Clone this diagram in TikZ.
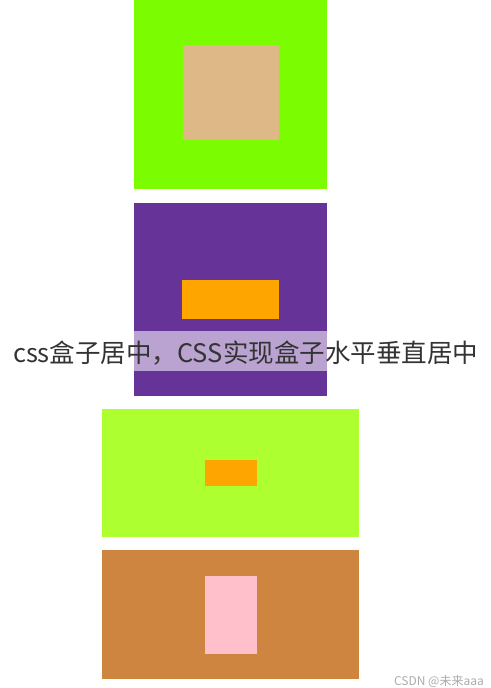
\documentclass[tikz,border=0pt]{standalone}
\usepackage{fontspec}
\newfontfamily\cjk{Noto Sans CJK SC}
\usetikzlibrary{positioning, calc}
\definecolor{lawnGreen}{HTML}{7CFC00}
\definecolor{burlyWood}{HTML}{DEB887}
\definecolor{rebeccaPurple}{HTML}{663399}
\definecolor{boxOrange}{HTML}{FFA500}
\definecolor{greenYellow}{HTML}{ADFF2F}
\definecolor{peruBrown}{HTML}{CD853F}
\definecolor{boxPink}{HTML}{FFC0CB}
\definecolor{titleGray}{HTML}{333333}

\begin{document}
\begin{tikzpicture}[x=1pt,y=-1pt,
				box/.style={rectangle,inner sep=0pt,outer sep=0pt,draw=none},
				band/.style={box,fill=white,fill opacity=0.55,minimum width=193pt,minimum height=40pt},
				title/.style={inner sep=0pt,font=\cjk\fontsize{25.5pt}{26pt}\selectfont,text=titleGray},
				stamp/.style={inner sep=0pt,font=\cjk\fontsize{12pt}{13pt}\selectfont,text=black!33}]
			\useasboundingbox (0,0) rectangle (490,688);
			% first pair
			\node [box,fill=lawnGreen,minimum width=193pt,minimum height=189pt] (outerA) at (230.5,94.5) {};
			\node [box,fill=burlyWood,minimum width=96pt,minimum height=95pt] (innerA) at (231,92.5) {};
			% second pair
			\node [box,fill=rebeccaPurple,minimum width=193pt,minimum height=193pt] (outerB) at (230.5,299.5) {};
			\node [box,fill=boxOrange,minimum width=97pt,minimum height=39pt] (innerB) at (outerB) {};
			% third pair
			\node [box,fill=greenYellow,minimum width=257pt,minimum height=128pt] (outerC) at (230.5,473) {};
			\node [box,fill=boxOrange,minimum width=52pt,minimum height=26pt] (innerC) at (outerC) {};
			% fourth pair
			\node [box,fill=peruBrown,minimum width=257pt,minimum height=129pt] (outerD) at (230.5,614.5) {};
			\node [box,fill=boxPink,minimum width=52pt,minimum height=78pt] (innerD) at (outerD) {};
			% caption
			\node [band] (band) at (230.5,351) {};
			\node [title] (caption) at (245.5,353.5) {css盒子居中，CSS实现盒子水平垂直居中};
			\node [stamp] (wmark) at (439,681) {CSDN @未来aaa};
		\end{tikzpicture}
\end{document}
